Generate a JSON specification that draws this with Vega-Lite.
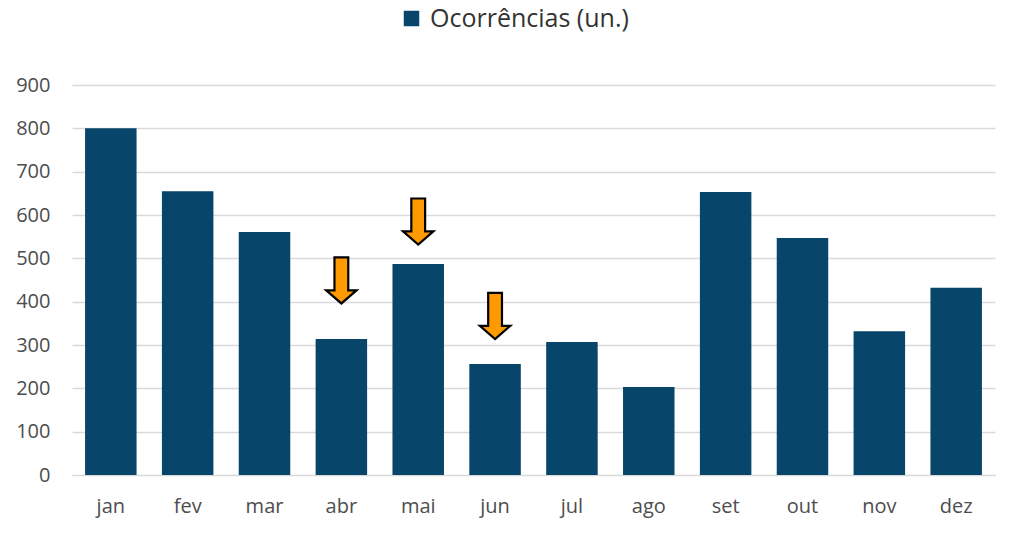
{
  "$schema": "https://vega.github.io/schema/vega-lite/v6.json",
  "width": 923,
  "height": 390,
  "autosize": {"type": "none"},
  "padding": {"left": 72, "top": 85, "right": 29, "bottom": 64},
  "background": "white",
  "config": {
    "view": {"stroke": null},
    "font": "Open Sans"
  },
  "datasets": {
    "bars": [
      {"mes": "jan", "valor": 800, "serie": "Ocorrências (un.)"},
      {"mes": "fev", "valor": 655, "serie": "Ocorrências (un.)"},
      {"mes": "mar", "valor": 561, "serie": "Ocorrências (un.)"},
      {"mes": "abr", "valor": 314, "serie": "Ocorrências (un.)"},
      {"mes": "mai", "valor": 487, "serie": "Ocorrências (un.)"},
      {"mes": "jun", "valor": 256, "serie": "Ocorrências (un.)"},
      {"mes": "jul", "valor": 307, "serie": "Ocorrências (un.)"},
      {"mes": "ago", "valor": 203, "serie": "Ocorrências (un.)"},
      {"mes": "set", "valor": 653, "serie": "Ocorrências (un.)"},
      {"mes": "out", "valor": 547, "serie": "Ocorrências (un.)"},
      {"mes": "nov", "valor": 332, "serie": "Ocorrências (un.)"},
      {"mes": "dez", "valor": 432, "serie": "Ocorrências (un.)"}
    ],
    "setas": [
      {"mes": "abr", "posicao": 449},
      {"mes": "mai", "posicao": 585},
      {"mes": "jun", "posicao": 367}
    ]
  },
  "layer": [
    {
      "data": {"name": "bars"},
      "mark": {"type": "bar", "color": "#07456A"},
      "encoding": {
        "x": {
          "field": "mes", "type": "nominal", "sort": null,
          "scale": {"paddingInner": 0.33, "paddingOuter": 0.17},
          "axis": {
            "title": null, "labelAngle": 0, "ticks": false,
            "domainColor": "#d9d9d9", "labelFontSize": 20, "labelColor": "#4d4d4d",
            "labelPadding": 21
          }
        },
        "y": {
          "field": "valor", "type": "quantitative",
          "scale": {"domain": [0, 900]},
          "axis": {
            "title": null, "values": [0,100,200,300,400,500,600,700,800,900],
            "domain": false, "ticks": false, "gridColor": "#d9d9d9", "gridWidth": 1.3,
            "labelFontSize": 20, "labelColor": "#4d4d4d", "labelPadding": 22
          }
        },
        "color": {
          "field": "serie", "type": "nominal",
          "scale": {"range": ["#07456A"]},
          "legend": {
            "title": null, "orient": "none", "legendX": 327, "legendY": -79,
            "symbolType": "square", "symbolSize": 240, "symbolStrokeWidth": 0,
            "labelFontSize": 25, "labelColor": "#333333", "labelOffset": 6, "labelLimit": 0
          }
        }
      }
    },
    {
      "data": {"name": "setas"},
      "mark": {
        "type": "point", "filled": true, "opacity": 1,
        "shape": "M -0.3 -1 L 0.3 -1 L 0.3 0.43 L 0.66 0.43 L 0 1 L -0.66 0.43 L -0.3 0.43 Z",
        "size": 2116, "fill": "#FF9A00", "stroke": "#000000", "strokeWidth": 2.2
      },
      "encoding": {
        "x": {"field": "mes", "type": "nominal", "sort": null},
        "y": {"field": "posicao", "type": "quantitative"}
      }
    }
  ]
}
